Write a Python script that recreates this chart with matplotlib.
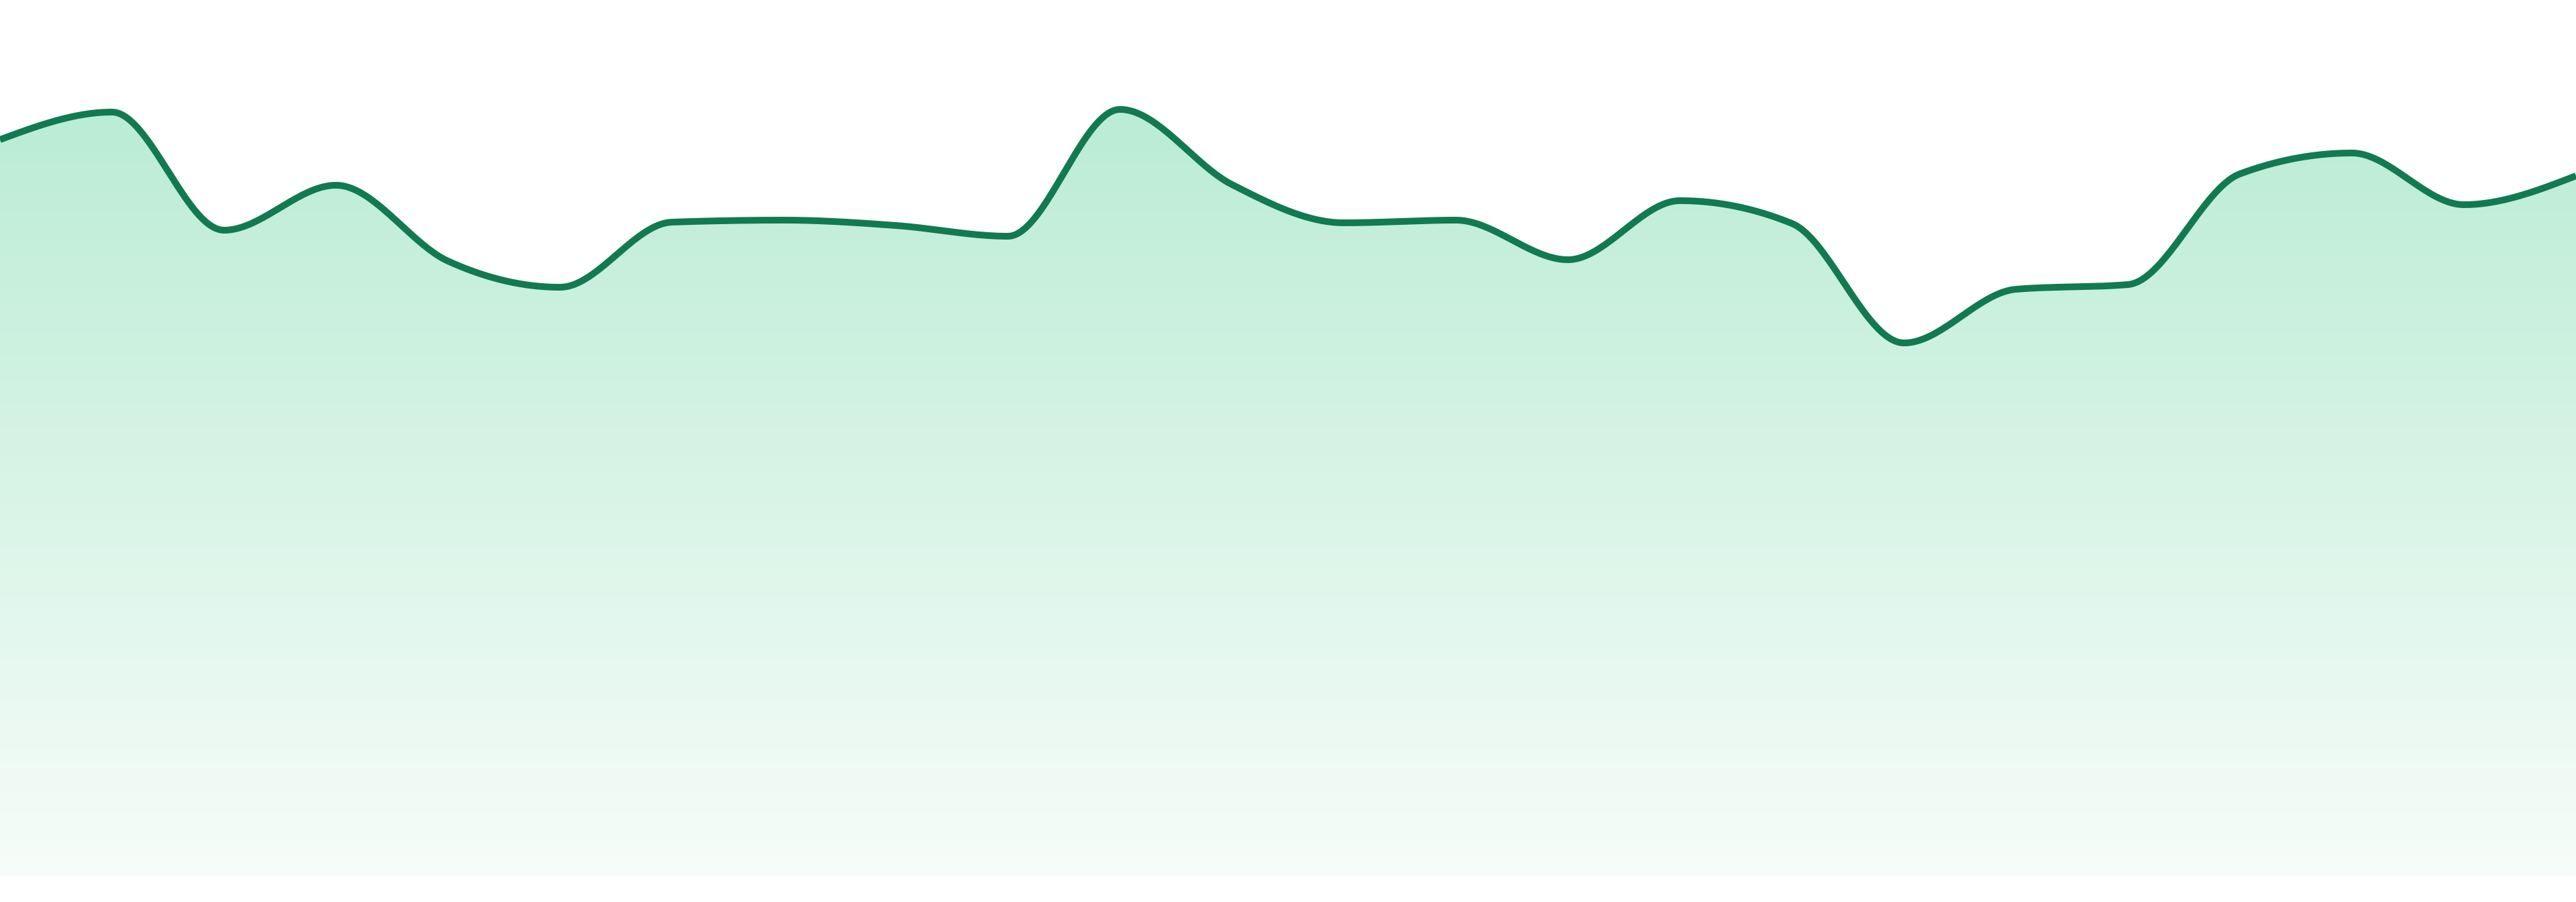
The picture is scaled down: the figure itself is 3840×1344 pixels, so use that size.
import numpy as np
import matplotlib
matplotlib.use("Agg")
import matplotlib.pyplot as plt
from matplotlib.colors import LinearSegmentedColormap

# data
days = list(range(24))
values = [109.7, 113.8, 96.2, 102.9, 91.6, 87.7, 97.4, 97.7, 96.9, 95.3, 114.2, 103.0,
          97.3, 97.7, 91.8, 100.6, 97.2, 79.4, 87.4, 88.1, 104.6, 107.7, 100.0, 104.3]

line_color = "#117a51"
fill_base = np.array([20, 190, 110]) / 255.0


def monotone_x(x, y, n=40):
    # same idea as d3 curveMonotoneX
    x = np.asarray(x, float)
    y = np.asarray(y, float)
    h = np.diff(x)
    s = np.diff(y) / h
    t = np.zeros(len(x))
    for i in range(1, len(x) - 1):
        s0, s1 = s[i - 1], s[i]
        p = (s0 * h[i] + s1 * h[i - 1]) / (h[i - 1] + h[i])
        sg = (1 if s0 >= 0 else -1) + (1 if s1 >= 0 else -1)
        t[i] = sg * min(abs(s0), abs(s1), 0.5 * abs(p))
    t[0] = (3 * s[0] - t[1]) / 2
    t[-1] = (3 * s[-1] - t[-2]) / 2
    xs, ys = [], []
    for i in range(len(x) - 1):
        u = np.linspace(0, 1, n, endpoint=False)
        dx = h[i]
        p0, p3 = y[i], y[i + 1]
        p1 = p0 + dx / 3 * t[i]
        p2 = p3 - dx / 3 * t[i + 1]
        xs.append(x[i] + dx * u)
        ys.append((1 - u) ** 3 * p0 + 3 * (1 - u) ** 2 * u * p1 + 3 * (1 - u) * u ** 2 * p2 + u ** 3 * p3)
    xs.append([x[-1]])
    ys.append([y[-1]])
    return np.concatenate(xs), np.concatenate(ys)


xs, ys = monotone_x(days, values)

fig = plt.figure(figsize=(38.4, 13.44), dpi=100)
ax = fig.add_axes([0, 0, 1, 1])
ax.axis("off")

# gradient fill under the curve
fill = ax.fill_between(xs, ys, 0, color="none", lw=0)
top_col = 1 - 0.29 * (1 - fill_base)
bot_col = 1 - 0.035 * (1 - fill_base)
cmap = LinearSegmentedColormap.from_list("g", [bot_col, top_col])
grad = np.linspace(0, 1, 256).reshape(-1, 1)
img = ax.imshow(grad, cmap=cmap, origin="lower", aspect="auto",
                extent=[0, 23, 0, max(values)], zorder=1)
path = fill.get_paths()[0]
img.set_clip_path(path, transform=ax.transData)

ax.plot(xs, ys, color=line_color, lw=7.2, solid_capstyle="butt", zorder=3)

# limits after imshow, it resets them
ax.set_xlim(0, 23)
ax.set_ylim(-3.9, 130.5)

fig.savefig("out.png", dpi=100, facecolor="white")
